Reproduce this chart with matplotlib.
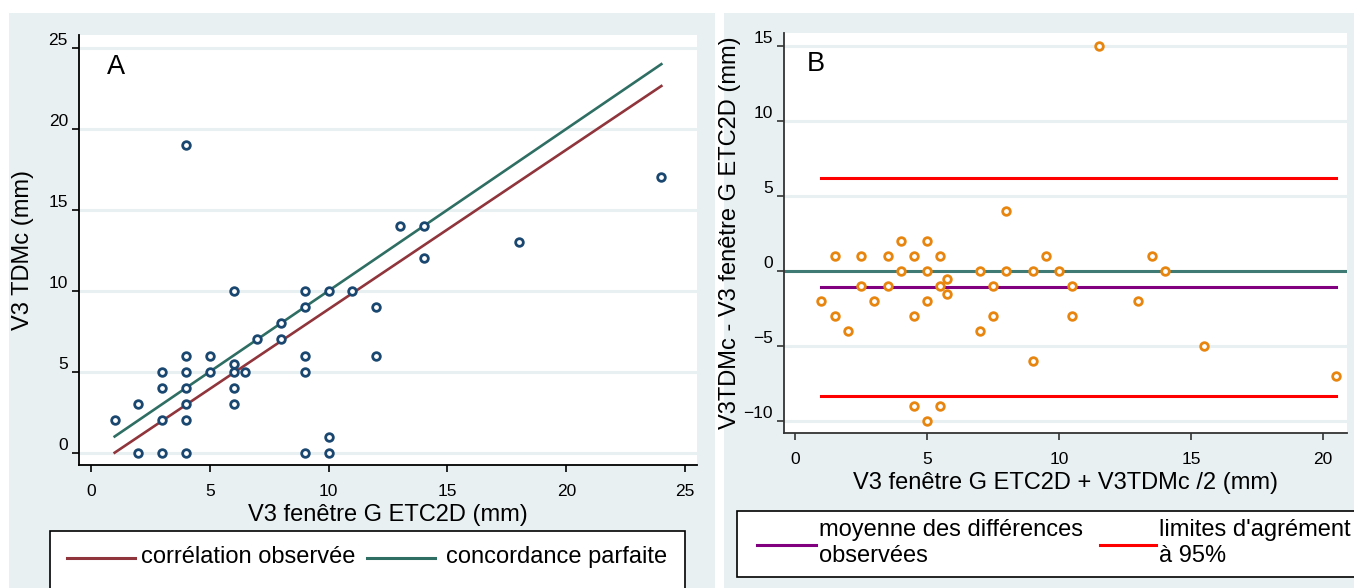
import matplotlib.pyplot as plt
import matplotlib.transforms as mtransforms
from matplotlib.patches import Rectangle
from matplotlib.lines import Line2D

plt.rcParams['font.family'] = ['Liberation Sans', 'DejaVu Sans']

# data: V3 fenetre G ETC2D (x) vs V3 TDMc (y)
etc2d = [1, 2, 2, 3, 3, 3, 3, 4, 4, 4, 4, 4, 4, 4, 5, 5, 6, 6, 6, 6, 6, 6.5,
         7, 8, 8, 9, 9, 9, 9, 9, 10, 10, 10, 11, 12, 12, 13, 14, 14, 18, 24]
tdmc = [2, 3, 0, 5, 4, 2, 0, 19, 6, 5, 4, 3, 2, 0, 6, 5, 10, 5.5, 5, 4, 3, 5,
        7, 8, 7, 10, 9, 6, 5, 0, 10, 1, 0, 10, 9, 6, 14, 14, 12, 13, 17]

# regression line
fit_x = [1, 24]
fit_y = [0.0, 22.65]
ident_x = [1, 24]

# Bland-Altman summary lines
ba_x = [1, 20.5]
mean_diff = -1.07
loa_upper = 6.2
loa_lower = -8.35

ba_mean = [(a + b) / 2 for a, b in zip(etc2d, tdmc)]
ba_diff = [b - a for a, b in zip(etc2d, tdmc)]

W, H = 1354, 588
BG = '#e9f0f2'
fig = plt.figure(figsize=(W / 100, H / 100), dpi=100)
fig.patch.set_facecolor('white')


def box(x0, y0, x1, y1):
    # pixel box -> figure fraction [l, b, w, h]
    return [x0 / W, 1 - y1 / H, (x1 - x0) / W, (y1 - y0) / H]


for x0, y0, x1, y1 in [(9, 13, 715, 600), (724, 13, 1360, 600)]:
    fig.patches.append(Rectangle((x0 / W, 1 - y1 / H), (x1 - x0) / W, (y1 - y0) / H,
                                 transform=fig.transFigure, facecolor=BG,
                                 edgecolor='none', zorder=-10))


def style_axes(ax, spine_col):
    ax.set_facecolor('white')
    for s in ['top', 'right']:
        ax.spines[s].set_visible(False)
    for s in ['left', 'bottom']:
        ax.spines[s].set_color(spine_col)
        ax.spines[s].set_linewidth(1.3)
    ax.tick_params(direction='out', length=5, width=1.2, colors=spine_col,
                   labelcolor='black', labelsize=12.5)
    ax.tick_params(axis='x', pad=9)
    ax.tick_params(axis='y', pad=3)
    ax.grid(axis='y', color=BG, linewidth=2.2)
    ax.set_axisbelow(True)
    off = mtransforms.ScaledTranslation(0, 0.09, fig.dpi_scale_trans)
    for lab in ax.get_yticklabels():
        lab.set_transform(lab.get_transform() + off)


# panel A
axA = fig.add_axes(box(79, 35, 697, 465))
axA.set_xlim(-0.5, 25.5)
axA.set_ylim(-0.76, 25.8)
axA.set_xticks([0, 5, 10, 15, 20, 25])
axA.set_yticks([0, 5, 10, 15, 20, 25])
style_axes(axA, 'black')
axA.plot(fit_x, fit_y, color='#90353b', linewidth=1.9, zorder=2)
axA.plot(ident_x, ident_x, color='#2e6e63', linewidth=1.9, zorder=2)
axA.plot(etc2d, tdmc, 'o', markerfacecolor='white', markeredgecolor='#1a476f',
         markersize=5.5, markeredgewidth=2, zorder=3)
axA.text(0.045, 0.955, 'A', transform=axA.transAxes, fontsize=19.5, va='top')
axA.set_xlabel('V3 fenêtre G ETC2D (mm)', fontsize=17, labelpad=3)
axA.set_ylabel('V3 TDMc (mm)', fontsize=17, labelpad=10)

# panel B
axB = fig.add_axes(box(784, 33, 1347, 433))
axB.set_xlim(-0.42, 20.9)
axB.set_ylim(-10.8, 15.87)
axB.set_xticks([0, 5, 10, 15, 20])
axB.set_yticks([-10, -5, 0, 5, 10, 15])
style_axes(axB, '#333333')
axB.axhline(0, color='#3f7a74', linewidth=2.2, zorder=2)
axB.plot(ba_x, [mean_diff] * 2, color='#800080', linewidth=2.2, zorder=2)
axB.plot(ba_x, [loa_upper] * 2, color='#ff0000', linewidth=2.2, zorder=2)
axB.plot(ba_x, [loa_lower] * 2, color='#ff0000', linewidth=2.2, zorder=2)
axB.plot(ba_mean, ba_diff, 'o', markerfacecolor='white', markeredgecolor='#e8850f',
         markersize=5.5, markeredgewidth=2, zorder=3)
axB.text(0.04, 0.955, 'B', transform=axB.transAxes, fontsize=19.5, va='top')
axB.set_xlabel('V3 fenêtre G ETC2D + V3TDMc /2 (mm)', fontsize=17, labelpad=3)
axB.set_ylabel('V3TDMc - V3 fenêtre G ETC2D (mm)', fontsize=17, labelpad=2)


# legends drawn as boxed figure-level artists
def legend_box(x0, y0, x1, y1):
    fig.patches.append(Rectangle((x0 / W, 1 - y1 / H), (x1 - x0) / W, (y1 - y0) / H,
                                 transform=fig.transFigure, facecolor='white',
                                 edgecolor='black', linewidth=1.2, zorder=5))


def legend_item(lx0, lx1, ly, color, tx, text, ty):
    fig.lines.append(Line2D([lx0 / W, lx1 / W], [1 - ly / H, 1 - ly / H],
                            transform=fig.transFigure, color=color,
                            linewidth=2.2, zorder=6))
    fig.text(tx / W, 1 - ty / H, text, fontsize=17, va='center', ha='left',
             zorder=7, linespacing=1.25)


legend_box(50, 531, 685, 620)
legend_item(67, 135, 558, '#90353b', 141, 'corrélation observée', 557)
legend_item(367, 435, 558, '#2e6e63', 446, 'concordance parfaite', 557)

legend_box(737, 511, 1380, 577)
legend_item(757, 816, 545, '#800080', 819, 'moyenne des différences\nobservées', 543)
legend_item(1100, 1156, 545, '#ff0000', 1159, "limites d'agrément\nà 95%", 543)

fig.savefig('out.png', dpi=100, facecolor='white')
